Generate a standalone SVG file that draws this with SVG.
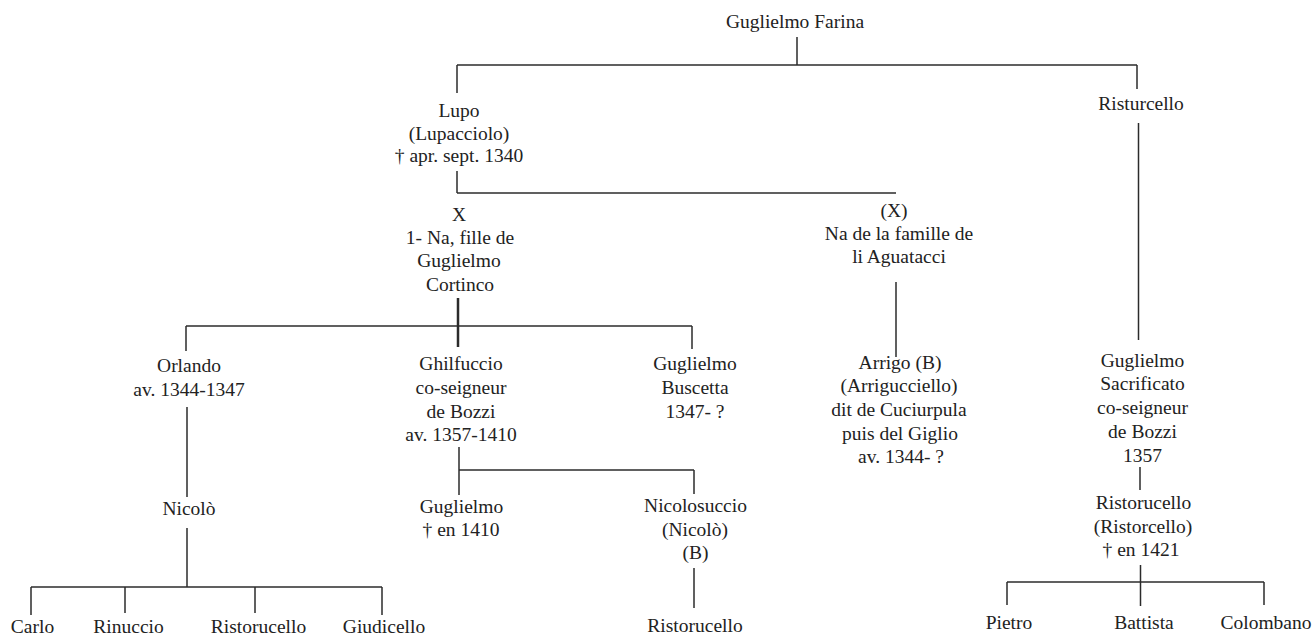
<svg xmlns="http://www.w3.org/2000/svg" width="1314" height="636" viewBox="0 0 1314 636">
<style>
text{font-family:"Liberation Serif","Times New Roman",serif;font-size:19.5px;fill:#222;text-anchor:middle}
.c line{stroke:#2b2b2b;stroke-width:1.5;fill:none}
.c line.t{stroke-width:2.5}
</style>
<rect width="1314" height="636" fill="#ffffff"/>
<g class="c" id="connectors">
<line x1="797" y1="37" x2="797" y2="65"/>
<line x1="457" y1="65" x2="1137" y2="65"/>
<line x1="457" y1="65" x2="457" y2="93"/>
<line x1="1137" y1="65" x2="1137" y2="89"/>
<line x1="457" y1="171" x2="457" y2="193"/>
<line x1="457" y1="193" x2="896" y2="193"/>
<line class="t" x1="458" y1="298" x2="458" y2="347"/>
<line x1="186" y1="326" x2="692" y2="326"/>
<line x1="186" y1="326" x2="186" y2="351"/>
<line x1="692" y1="326" x2="692" y2="349"/>
<line x1="896" y1="282" x2="896" y2="357"/>
<line x1="1138.5" y1="123" x2="1138.5" y2="340"/>
<line x1="187" y1="407" x2="187" y2="497"/>
<line x1="187" y1="528" x2="187" y2="587"/>
<line x1="31" y1="587" x2="382" y2="587"/>
<line x1="31" y1="587" x2="31" y2="615"/>
<line x1="125" y1="587" x2="125" y2="613"/>
<line x1="255" y1="587" x2="255" y2="613"/>
<line x1="382" y1="587" x2="382" y2="615"/>
<line x1="459" y1="447" x2="459" y2="495"/>
<line x1="459" y1="470" x2="694" y2="470"/>
<line x1="694" y1="470" x2="694" y2="494"/>
<line x1="694" y1="568" x2="694" y2="608"/>
<line x1="1140" y1="467" x2="1140" y2="490"/>
<line x1="1140.5" y1="565" x2="1140.5" y2="606"/>
<line x1="1007" y1="582" x2="1264" y2="582"/>
<line x1="1007" y1="582" x2="1007" y2="605"/>
<line x1="1264" y1="582" x2="1264" y2="605"/>
</g>
<g id="farina"><text x="795" y="28">Guglielmo Farina</text></g>
<g id="lupo"><text x="459" y="117">Lupo</text><text x="459" y="139.5">(Lupacciolo)</text><text x="459" y="161.5">† apr. sept. 1340</text></g>
<g id="risturcello"><text x="1141" y="110">Risturcello</text></g>
<g id="cortinco"><text x="459" y="220.5">X</text><text x="460" y="243.5">1- Na, fille de</text><text x="459" y="267">Guglielmo</text><text x="460" y="291">Cortinco</text></g>
<g id="aguatacci"><text x="894" y="216.5">(X)</text><text x="899" y="240">Na de la famille de</text><text x="899" y="263">li Aguatacci</text></g>
<g id="orlando"><text x="189" y="371.5">Orlando</text><text x="189" y="395.5">av. 1344-1347</text></g>
<g id="ghilfuccio"><text x="461" y="370">Ghilfuccio</text><text x="461" y="394">co-seigneur</text><text x="461" y="417.5">de Bozzi</text><text x="461" y="441">av. 1357-1410</text></g>
<g id="buscetta"><text x="695" y="370">Guglielmo</text><text x="695" y="394">Buscetta</text><text x="695" y="417.5">1347- ?</text></g>
<g id="arrigo"><text x="900" y="368.5">Arrigo (B)</text><text x="899" y="392">(Arrigucciello)</text><text x="899" y="416">dit de Cuciurpula</text><text x="900" y="440">puis del Giglio</text><text x="901" y="463">av. 1344- ?</text></g>
<g id="sacrificato"><text x="1142.5" y="366.5">Guglielmo</text><text x="1142.5" y="390">Sacrificato</text><text x="1142.5" y="414">co-seigneur</text><text x="1142.5" y="438">de Bozzi</text><text x="1142.5" y="461.5">1357</text></g>
<g id="nicolo"><text x="189" y="515">Nicolò</text></g>
<g id="guglielmo2"><text x="461.5" y="513.3">Guglielmo</text><text x="461" y="536">† en 1410</text></g>
<g id="nicolosuccio"><text x="695.5" y="512.3">Nicolosuccio</text><text x="695" y="535.5">(Nicolò)</text><text x="695.5" y="558.5">(B)</text></g>
<g id="ristorucello-mid"><text x="695" y="632">Ristorucello</text></g>
<g id="ristorucello-right"><text x="1143.5" y="509.3">Ristorucello</text><text x="1143" y="532.5">(Ristorcello)</text><text x="1141" y="556">† en 1421</text></g>
<g id="carlo"><text x="32.5" y="633">Carlo</text></g>
<g id="rinuccio"><text x="128.5" y="633">Rinuccio</text></g>
<g id="ristorucello-left"><text x="258.5" y="633">Ristorucello</text></g>
<g id="giudicello"><text x="384" y="633">Giudicello</text></g>
<g id="pietro"><text x="1009" y="628.5">Pietro</text></g>
<g id="battista"><text x="1144" y="628.5">Battista</text></g>
<g id="colombano"><text x="1266" y="628.5">Colombano</text></g>
</svg>
